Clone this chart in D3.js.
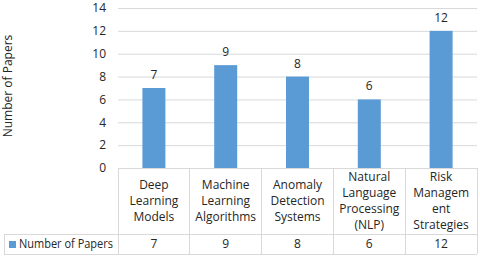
<!DOCTYPE html>
<html>
<head>
<meta charset="utf-8">
<script src="https://cdn.jsdelivr.net/npm/d3@7"></script>
<style>
  body { margin: 0; background: #fff; }
  svg text { font-family: "Open Sans", "Noto Sans", sans-serif; fill: #262626; }
</style>
</head>
<body>
<div id="chart"></div>
<script>
const categories = ["Deep Learning Models", "Machine Learning Algorithms", "Anomaly Detection Systems", "Natural Language Processing (NLP)", "Risk Management Strategies"]
const categoryLines = [
    ["Deep", "Learning", "Models"],
    ["Machine", "Learning", "Algorithms"],
    ["Anomaly", "Detection", "Systems"],
    ["Natural", "Language", "Processing", "(NLP)"],
    ["Risk", "Managem", "ent", "Strategies"]
]
const papers = [7, 9, 8, 6, 12]
const yTicks = [0, 2, 4, 6, 8, 10, 12, 14]
const seriesName = "Number of Papers"

const width = 480, height = 258;
const plotLeft = 118, plotRight = 477, plotTop = 8, zeroY = 168;
const tableMid = 234, tableBottom = 254, tableLeft = 4;
const gridColour = "#d9d9d9";
const barColour = "#5b9bd5";

const svg = d3.select("#chart").append("svg")
    .attr("width", width)
    .attr("height", height);

const x = d3.scaleBand()
    .domain(categories)
    .range([plotLeft, plotRight]);

const y = d3.scaleLinear()
    .domain([0, 14])
    .range([zeroY, plotTop]);

// gridlines + tick labels
const yAxis = d3.axisLeft(y)
    .tickValues(yTicks)
    .tickSize(-(plotRight - plotLeft))
    .tickPadding(12);

const yAxisEl = svg.append("g")
    .attr("transform", `translate(${plotLeft},0)`)
    .call(yAxis);

yAxisEl.select(".domain").remove();
yAxisEl.selectAll("line").attr("stroke", gridColour).attr("stroke-width", 1);
yAxisEl.selectAll("text")
    .style("font-size", "12px")
    .style("font-family", '"Open Sans", sans-serif')
    .attr("fill", "#262626");

// bars
const barW = 23;
svg.append("g").selectAll("rect")
    .data(papers)
    .enter()
    .append("rect")
    .attr("x", (d, i) => x(categories[i]) + x.bandwidth() / 2 - barW / 2)
    .attr("y", d => y(d))
    .attr("width", barW)
    .attr("height", d => zeroY - y(d))
    .attr("fill", barColour);

// value labels
svg.append("g").selectAll("text")
    .data(papers)
    .enter()
    .append("text")
    .text(d => d)
    .attr("x", (d, i) => x(categories[i]) + x.bandwidth() / 2)
    .attr("y", d => y(d) - 9)
    .attr("text-anchor", "middle")
    .style("font-size", "12px");

// y title
svg.append("text")
    .text(seriesName)
    .attr("transform", "translate(12,86) rotate(-90)")
    .attr("text-anchor", "middle")
    .style("font-size", "12px");

// data table
const table = svg.append("g")
    .attr("stroke", gridColour)
    .attr("stroke-width", 1)
    .attr("shape-rendering", "crispEdges");

table.append("line").attr("x1", plotLeft).attr("x2", plotRight).attr("y1", zeroY).attr("y2", zeroY);
table.append("line").attr("x1", tableLeft).attr("x2", plotRight).attr("y1", tableMid).attr("y2", tableMid);
table.append("line").attr("x1", tableLeft).attr("x2", plotRight).attr("y1", tableBottom).attr("y2", tableBottom);
table.append("line").attr("x1", tableLeft).attr("x2", tableLeft).attr("y1", tableMid).attr("y2", tableBottom);

const edges = categories.map(c => x(c)).concat([plotRight]);
table.selectAll(".col")
    .data(edges)
    .enter()
    .append("line")
    .attr("x1", d => d).attr("x2", d => d)
    .attr("y1", zeroY).attr("y2", tableBottom);

// category labels
const lineH = 16;
categoryLines.forEach((lines, i) => {
    const cx = x(categories[i]) + x.bandwidth() / 2;
    const startY = (zeroY + tableMid) / 2 - (lines.length - 1) * lineH / 2;
    svg.append("text")
        .attr("text-anchor", "middle")
        .style("font-size", "12px")
        .selectAll("tspan")
        .data(lines)
        .enter()
        .append("tspan")
        .attr("x", cx)
        .attr("y", (d, j) => startY + j * lineH)
        .attr("dy", "0.35em")
        .text(d => d);
});

// table values
svg.append("g").selectAll("text")
    .data(papers)
    .enter()
    .append("text")
    .text(d => d)
    .attr("x", (d, i) => x(categories[i]) + x.bandwidth() / 2)
    .attr("y", (tableMid + tableBottom) / 2)
    .attr("dy", "0.35em")
    .attr("text-anchor", "middle")
    .style("font-size", "12px");

// legend key
svg.append("rect")
    .attr("x", 9)
    .attr("y", 241)
    .attr("width", 7)
    .attr("height", 7)
    .attr("fill", barColour);

svg.append("text")
    .text(seriesName)
    .attr("x", 19)
    .attr("y", (tableMid + tableBottom) / 2)
    .attr("dy", "0.35em")
    .attr("textLength", 94)
    .attr("lengthAdjust", "spacingAndGlyphs")
    .style("font-size", "12px");
</script>
</body>
</html>
